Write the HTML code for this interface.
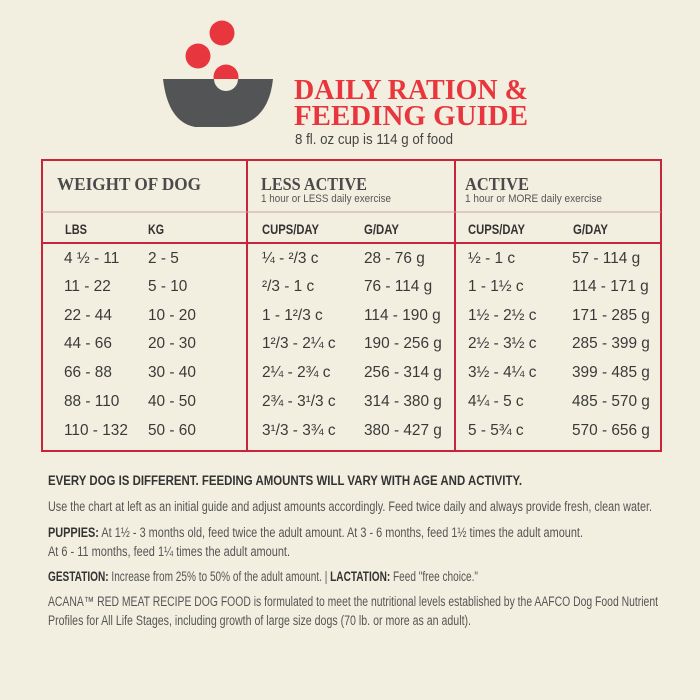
<!DOCTYPE html>
<html><head><meta charset="utf-8"><style>
html,body{margin:0;padding:0;background:#f3efe0;}
svg{display:block}
.d{font-family:"Liberation Sans",sans-serif;font-size:15.4px;fill:#3a3a3a}
.h{font-family:"Liberation Serif",serif;font-weight:bold;fill:#4a4a4a;font-size:18px}
.s{font-family:"Liberation Sans",sans-serif;font-size:11px;fill:#555}
.c{font-family:"Liberation Sans",sans-serif;font-weight:bold;font-size:14px;fill:#333}
.t{font-family:"Liberation Sans",sans-serif;font-size:13.5px;fill:#555}
.tb{font-family:"Liberation Sans",sans-serif;font-size:13.5px;fill:#333;font-weight:bold}
</style></head><body>
<svg width="700" height="700" viewBox="0 0 700 700">
<rect width="700" height="700" fill="#f3efe0"/>
<circle cx="222" cy="33" r="12.5" fill="#e8363e"/>
<circle cx="198" cy="56" r="12.5" fill="#e8363e"/>
<circle cx="226" cy="77" r="12.5" fill="#e8363e"/>
<path d="M163 79 H273 Q268 128 222 127 H195 Q168 122 163 79 Z" fill="#535456"/>
<path d="M214 79 A12 12 0 0 0 238 79 Z" fill="#f3efe0"/>
<text x="294" y="99" font-family="Liberation Serif,serif" font-weight="bold" font-size="29" fill="#e8363e" textLength="234" lengthAdjust="spacingAndGlyphs">DAILY RATION &amp;</text>
<text x="294" y="125" font-family="Liberation Serif,serif" font-weight="bold" font-size="29" fill="#e8363e" textLength="234" lengthAdjust="spacingAndGlyphs">FEEDING GUIDE</text>
<text x="295" y="144" font-family="Liberation Sans,sans-serif" font-size="15" fill="#444" textLength="158" lengthAdjust="spacingAndGlyphs">8 fl. oz cup is 114 g of food</text>
<g stroke="#c8243c" stroke-width="2" fill="none">
<rect x="42" y="160" width="619" height="291"/>
<line x1="247" y1="160" x2="247" y2="451"/>
<line x1="455" y1="160" x2="455" y2="451"/>
<line x1="42" y1="243" x2="661" y2="243"/>
</g>
<line x1="42" y1="212" x2="661" y2="212" stroke="#c8a0a0" stroke-width="1"/>
<text class="h" x="57" y="190" textLength="144" lengthAdjust="spacingAndGlyphs">WEIGHT OF DOG</text>
<text class="h" x="261" y="190" textLength="106" lengthAdjust="spacingAndGlyphs">LESS ACTIVE</text>
<text class="s" x="261" y="202" textLength="130" lengthAdjust="spacingAndGlyphs">1 hour or LESS daily exercise</text>
<text class="h" x="465" y="190" textLength="64" lengthAdjust="spacingAndGlyphs">ACTIVE</text>
<text class="s" x="465" y="202" textLength="137" lengthAdjust="spacingAndGlyphs">1 hour or MORE daily exercise</text>
<g class="c">
<text x="65" y="234" textLength="22" lengthAdjust="spacingAndGlyphs">LBS</text>
<text x="148" y="234" textLength="16" lengthAdjust="spacingAndGlyphs">KG</text>
<text x="262" y="234" textLength="57" lengthAdjust="spacingAndGlyphs">CUPS/DAY</text>
<text x="364" y="234" textLength="35" lengthAdjust="spacingAndGlyphs">G/DAY</text>
<text x="468" y="234" textLength="57" lengthAdjust="spacingAndGlyphs">CUPS/DAY</text>
<text x="573" y="234" textLength="35" lengthAdjust="spacingAndGlyphs">G/DAY</text>
</g>
<g class="d">
<text x="64" y="263">4 ½ - 11</text><text x="148" y="263">2 - 5</text><text x="262" y="263">¼ - ²/3 c</text><text x="364" y="263">28 - 76 g</text><text x="468" y="263">½ - 1 c</text><text x="572" y="263">57 - 114 g</text>
<text x="64" y="291">11 - 22</text><text x="148" y="291">5 - 10</text><text x="262" y="291">²/3 - 1 c</text><text x="364" y="291">76 - 114 g</text><text x="468" y="291">1 - 1½ c</text><text x="572" y="291">114 - 171 g</text>
<text x="64" y="320">22 - 44</text><text x="148" y="320">10 - 20</text><text x="262" y="320">1 - 1²/3 c</text><text x="364" y="320">114 - 190 g</text><text x="468" y="320">1½ - 2½ c</text><text x="572" y="320">171 - 285 g</text>
<text x="64" y="348">44 - 66</text><text x="148" y="348">20 - 30</text><text x="262" y="348">1²/3 - 2¼ c</text><text x="364" y="348">190 - 256 g</text><text x="468" y="348">2½ - 3½ c</text><text x="572" y="348">285 - 399 g</text>
<text x="64" y="377">66 - 88</text><text x="148" y="377">30 - 40</text><text x="262" y="377">2¼ - 2¾ c</text><text x="364" y="377">256 - 314 g</text><text x="468" y="377">3½ - 4¼ c</text><text x="572" y="377">399 - 485 g</text>
<text x="64" y="406">88 - 110</text><text x="148" y="406">40 - 50</text><text x="262" y="406">2¾ - 3¹/3 c</text><text x="364" y="406">314 - 380 g</text><text x="468" y="406">4¼ - 5 c</text><text x="572" y="406">485 - 570 g</text>
<text x="64" y="435">110 - 132</text><text x="148" y="435">50 - 60</text><text x="262" y="435">3¹/3 - 3¾ c</text><text x="364" y="435">380 - 427 g</text><text x="468" y="435">5 - 5¾ c</text><text x="572" y="435">570 - 656 g</text>
</g>
<text class="tb" x="48" y="485" textLength="474" lengthAdjust="spacingAndGlyphs">EVERY DOG IS DIFFERENT. FEEDING AMOUNTS WILL VARY WITH AGE AND ACTIVITY.</text>
<text class="t" x="48" y="511" textLength="604" lengthAdjust="spacingAndGlyphs">Use the chart at left as an initial guide and adjust amounts accordingly. Feed twice daily and always provide fresh, clean water.</text>
<text class="t" x="48" y="537" textLength="535" lengthAdjust="spacingAndGlyphs"><tspan class="tb">PUPPIES:</tspan> At 1½ - 3 months old, feed twice the adult amount. At 3 - 6 months, feed 1½ times the adult amount.</text>
<text class="t" x="48" y="556" textLength="242" lengthAdjust="spacingAndGlyphs">At 6 - 11 months, feed 1¼ times the adult amount.</text>
<text class="t" x="48" y="581" textLength="430" lengthAdjust="spacingAndGlyphs"><tspan class="tb">GESTATION:</tspan> Increase from 25% to 50% of the adult amount. | <tspan class="tb">LACTATION:</tspan> Feed "free choice."</text>
<text class="t" x="48" y="606" textLength="610" lengthAdjust="spacingAndGlyphs">ACANA™ RED MEAT RECIPE DOG FOOD is formulated to meet the nutritional levels established by the AAFCO Dog Food Nutrient</text>
<text class="t" x="48" y="625" textLength="423" lengthAdjust="spacingAndGlyphs">Profiles for All Life Stages, including growth of large size dogs (70 lb. or more as an adult).</text>
</svg>
</body></html>
